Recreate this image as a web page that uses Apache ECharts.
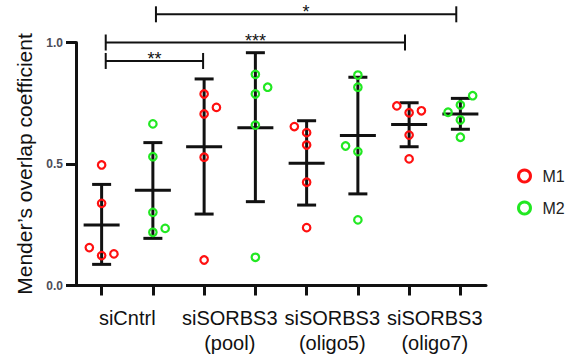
<!DOCTYPE html>
<html>
<head>
<meta charset="utf-8">
<script src="https://cdn.jsdelivr.net/npm/echarts@6/dist/echarts.min.js"></script>
<style>
  html, body { margin: 0; padding: 0; background: #fff; }
  #chart { width: 580px; height: 360px; }
</style>
</head>
<body>
<div id="chart"></div>
<script>
// x axis groups, each group has an M1 column and an M2 column
const groups = ['siCntrl', 'siSORBS3\n(pool)', 'siSORBS3\n(oligo5)', 'siSORBS3\n(oligo7)']
const columns = [0, 1, 2, 3, 4, 5, 6, 7]

// single values per group
const m1Values = [
  [0.496, 0.338, 0.156, 0.123, 0.130],
  [0.788, 0.733, 0.706, 0.528, 0.105],
  [0.654, 0.629, 0.578, 0.425, 0.238],
  [0.739, 0.719, 0.711, 0.619, 0.521]
]
const m2Values = [
  [0.665, 0.530, 0.301, 0.219, 0.235],
  [0.869, 0.816, 0.788, 0.660, 0.116],
  [0.866, 0.816, 0.574, 0.551, 0.270],
  [0.781, 0.743, 0.713, 0.681, 0.610]
]
// side step of each dot (-1 left, 0 on the bar, 1 right)
const m1Jitter = [
  [0, 0, -1, 0, 1],
  [0, 1, 0, 0, 0],
  [-1, 0, 0, 0, 0],
  [-1, 1, 0, 0, 0]
]
const m2Jitter = [
  [0, 0, 0, 0, 1],
  [0, 1, 0, 0, 0],
  [0, 0, -1, 0, 0],
  [1, 0, -1, 0, 0]
]

// mean and error bar per column
const means = [0.249, 0.392, 0.571, 0.649, 0.503, 0.617, 0.663, 0.706]
const lower = [0.087, 0.194, 0.294, 0.345, 0.331, 0.377, 0.571, 0.643]
const upper = [0.416, 0.588, 0.850, 0.958, 0.678, 0.857, 0.752, 0.770]

// significance brackets
const sigFrom = [0.08, 0.08, 1.06]
const sigTo = [1.98, 5.92, 6.92]
const sigY = [0.924, 1.0, 1.116]
const sigText = ['**', '***', '*']

const FONT = '"Liberation Sans", Arial, sans-serif'
const RED = '#ff1010'
const GREEN = '#22e822'
const jitterStep = 0.24

function dots(values, jitter, offset) {
  const out = []
  values.forEach((vals, g) => {
    vals.forEach((v, i) => {
      out.push([2 * g + offset + jitter[g][i] * jitterStep, v])
    })
  })
  return out
}

const chart = echarts.init(document.getElementById('chart'), null, { renderer: 'svg' })

chart.setOption({
  animation: false,
  grid: { left: 76, right: 94, top: 42.5, bottom: 74.5, containLabel: false },
  legend: {
    orient: 'vertical',
    left: 512,
    top: 163,
    itemWidth: 26,
    itemHeight: 12,
    itemGap: 16,
    selectedMode: false,
    textStyle: { fontFamily: '"Liberation Sans Narrow", "Liberation Sans", Arial', fontSize: 16, color: '#222', padding: [0, 0, 0, 0] },
    data: [
      { name: 'M1', icon: 'circle', itemStyle: { color: 'rgba(0,0,0,0)', borderColor: RED, borderWidth: 3 } },
      { name: 'M2', icon: 'circle', itemStyle: { color: 'rgba(0,0,0,0)', borderColor: GREEN, borderWidth: 3 } }
    ]
  },
  xAxis: [{
    type: 'category',
    data: groups,
    position: 'bottom',
    axisLine: { show: true, onZero: false, lineStyle: { color: '#111', width: 3 } },
    axisTick: { show: false },
    axisLabel: { interval: 0, fontFamily: FONT, fontSize: 20, color: '#111', lineHeight: 25, margin: 20 },
    splitLine: { show: false }
  }, {
    type: 'value',
    min: -0.5,
    max: 7.5,
    position: 'bottom',
    axisLine: { show: false, onZero: false },
    axisTick: { show: true, customValues: columns, length: 10, lineStyle: { color: '#111', width: 3 } },
    axisLabel: { show: false },
    splitLine: { show: false }
  }],
  yAxis: {
    type: 'value',
    min: 0,
    max: 1,
    interval: 0.5,
    name: 'Mender\u2019s overlap coefficient',
    nameLocation: 'middle',
    nameGap: 38,
    nameTextStyle: { fontFamily: FONT, fontSize: 21, color: '#111' },
    axisLine: { show: true, onZero: false, lineStyle: { color: '#111', width: 3 } },
    axisTick: { show: true, length: 10, lineStyle: { color: '#111', width: 3 } },
    axisLabel: {
      fontFamily: FONT, fontSize: 12, fontWeight: 'bold', color: '#4d4d58', margin: 13,
      formatter: v => v.toFixed(1)
    },
    splitLine: { show: false }
  },
  series: [
    {
      name: 'errorbars',
      type: 'custom',
      xAxisIndex: 1,
      z: 2,
      silent: true,
      encode: { x: 0, y: [1, 2, 3] },
      data: columns.map(c => [c, means[c], lower[c], upper[c]]),
      renderItem(params, api) {
        const x = api.value(0)
        const m = api.coord([x, api.value(1)])
        const lo = api.coord([x, api.value(2)])
        const hi = api.coord([x, api.value(3)])
        const style = { stroke: '#111', lineWidth: 3 }
        const cx = m[0]
        return {
          type: 'group',
          children: [
            { type: 'line', shape: { x1: cx, y1: lo[1], x2: cx, y2: hi[1] }, style },
            { type: 'line', shape: { x1: cx - 9.5, y1: lo[1], x2: cx + 9.5, y2: lo[1] }, style },
            { type: 'line', shape: { x1: cx - 9.5, y1: hi[1], x2: cx + 9.5, y2: hi[1] }, style },
            { type: 'line', shape: { x1: cx - 18, y1: m[1], x2: cx + 18, y2: m[1] }, style }
          ]
        }
      }
    },
    {
      name: 'brackets',
      type: 'custom',
      xAxisIndex: 1,
      z: 2,
      clip: false,
      silent: true,
      encode: { x: [0, 1], y: 2 },
      data: sigY.map((y, i) => [sigFrom[i], sigTo[i], y]),
      renderItem(params, api) {
        const a = api.coord([api.value(0), api.value(2)])
        const b = api.coord([api.value(1), api.value(2)])
        const style = { stroke: '#111', lineWidth: 2 }
        return {
          type: 'group',
          children: [
            { type: 'line', shape: { x1: a[0], y1: a[1], x2: b[0], y2: b[1] }, style },
            { type: 'line', shape: { x1: a[0], y1: a[1] - 8, x2: a[0], y2: a[1] + 8 }, style },
            { type: 'line', shape: { x1: b[0], y1: b[1] - 8, x2: b[0], y2: b[1] + 8 }, style },
            {
              type: 'text',
              x: (a[0] + b[0]) / 2,
              y: a[1] - 2,
              style: {
                text: sigText[params.dataIndex],
                font: '18px ' + FONT,
                fill: '#111',
                align: 'center',
                verticalAlign: 'middle'
              }
            }
          ]
        }
      }
    },
    {
      name: 'M1',
      type: 'scatter',
      xAxisIndex: 1,
      z: 3,
      symbol: 'circle',
      symbolSize: 7.5,
      itemStyle: { color: 'rgba(0,0,0,0)', borderColor: RED, borderWidth: 2.2, opacity: 1 },
      emphasis: { disabled: true },
      data: dots(m1Values, m1Jitter, 0)
    },
    {
      name: 'M2',
      type: 'scatter',
      xAxisIndex: 1,
      z: 3,
      symbol: 'circle',
      symbolSize: 7.5,
      itemStyle: { color: 'rgba(0,0,0,0)', borderColor: GREEN, borderWidth: 2.2, opacity: 1 },
      emphasis: { disabled: true },
      data: dots(m2Values, m2Jitter, 1)
    }
  ]
})
</script>
</body>
</html>
